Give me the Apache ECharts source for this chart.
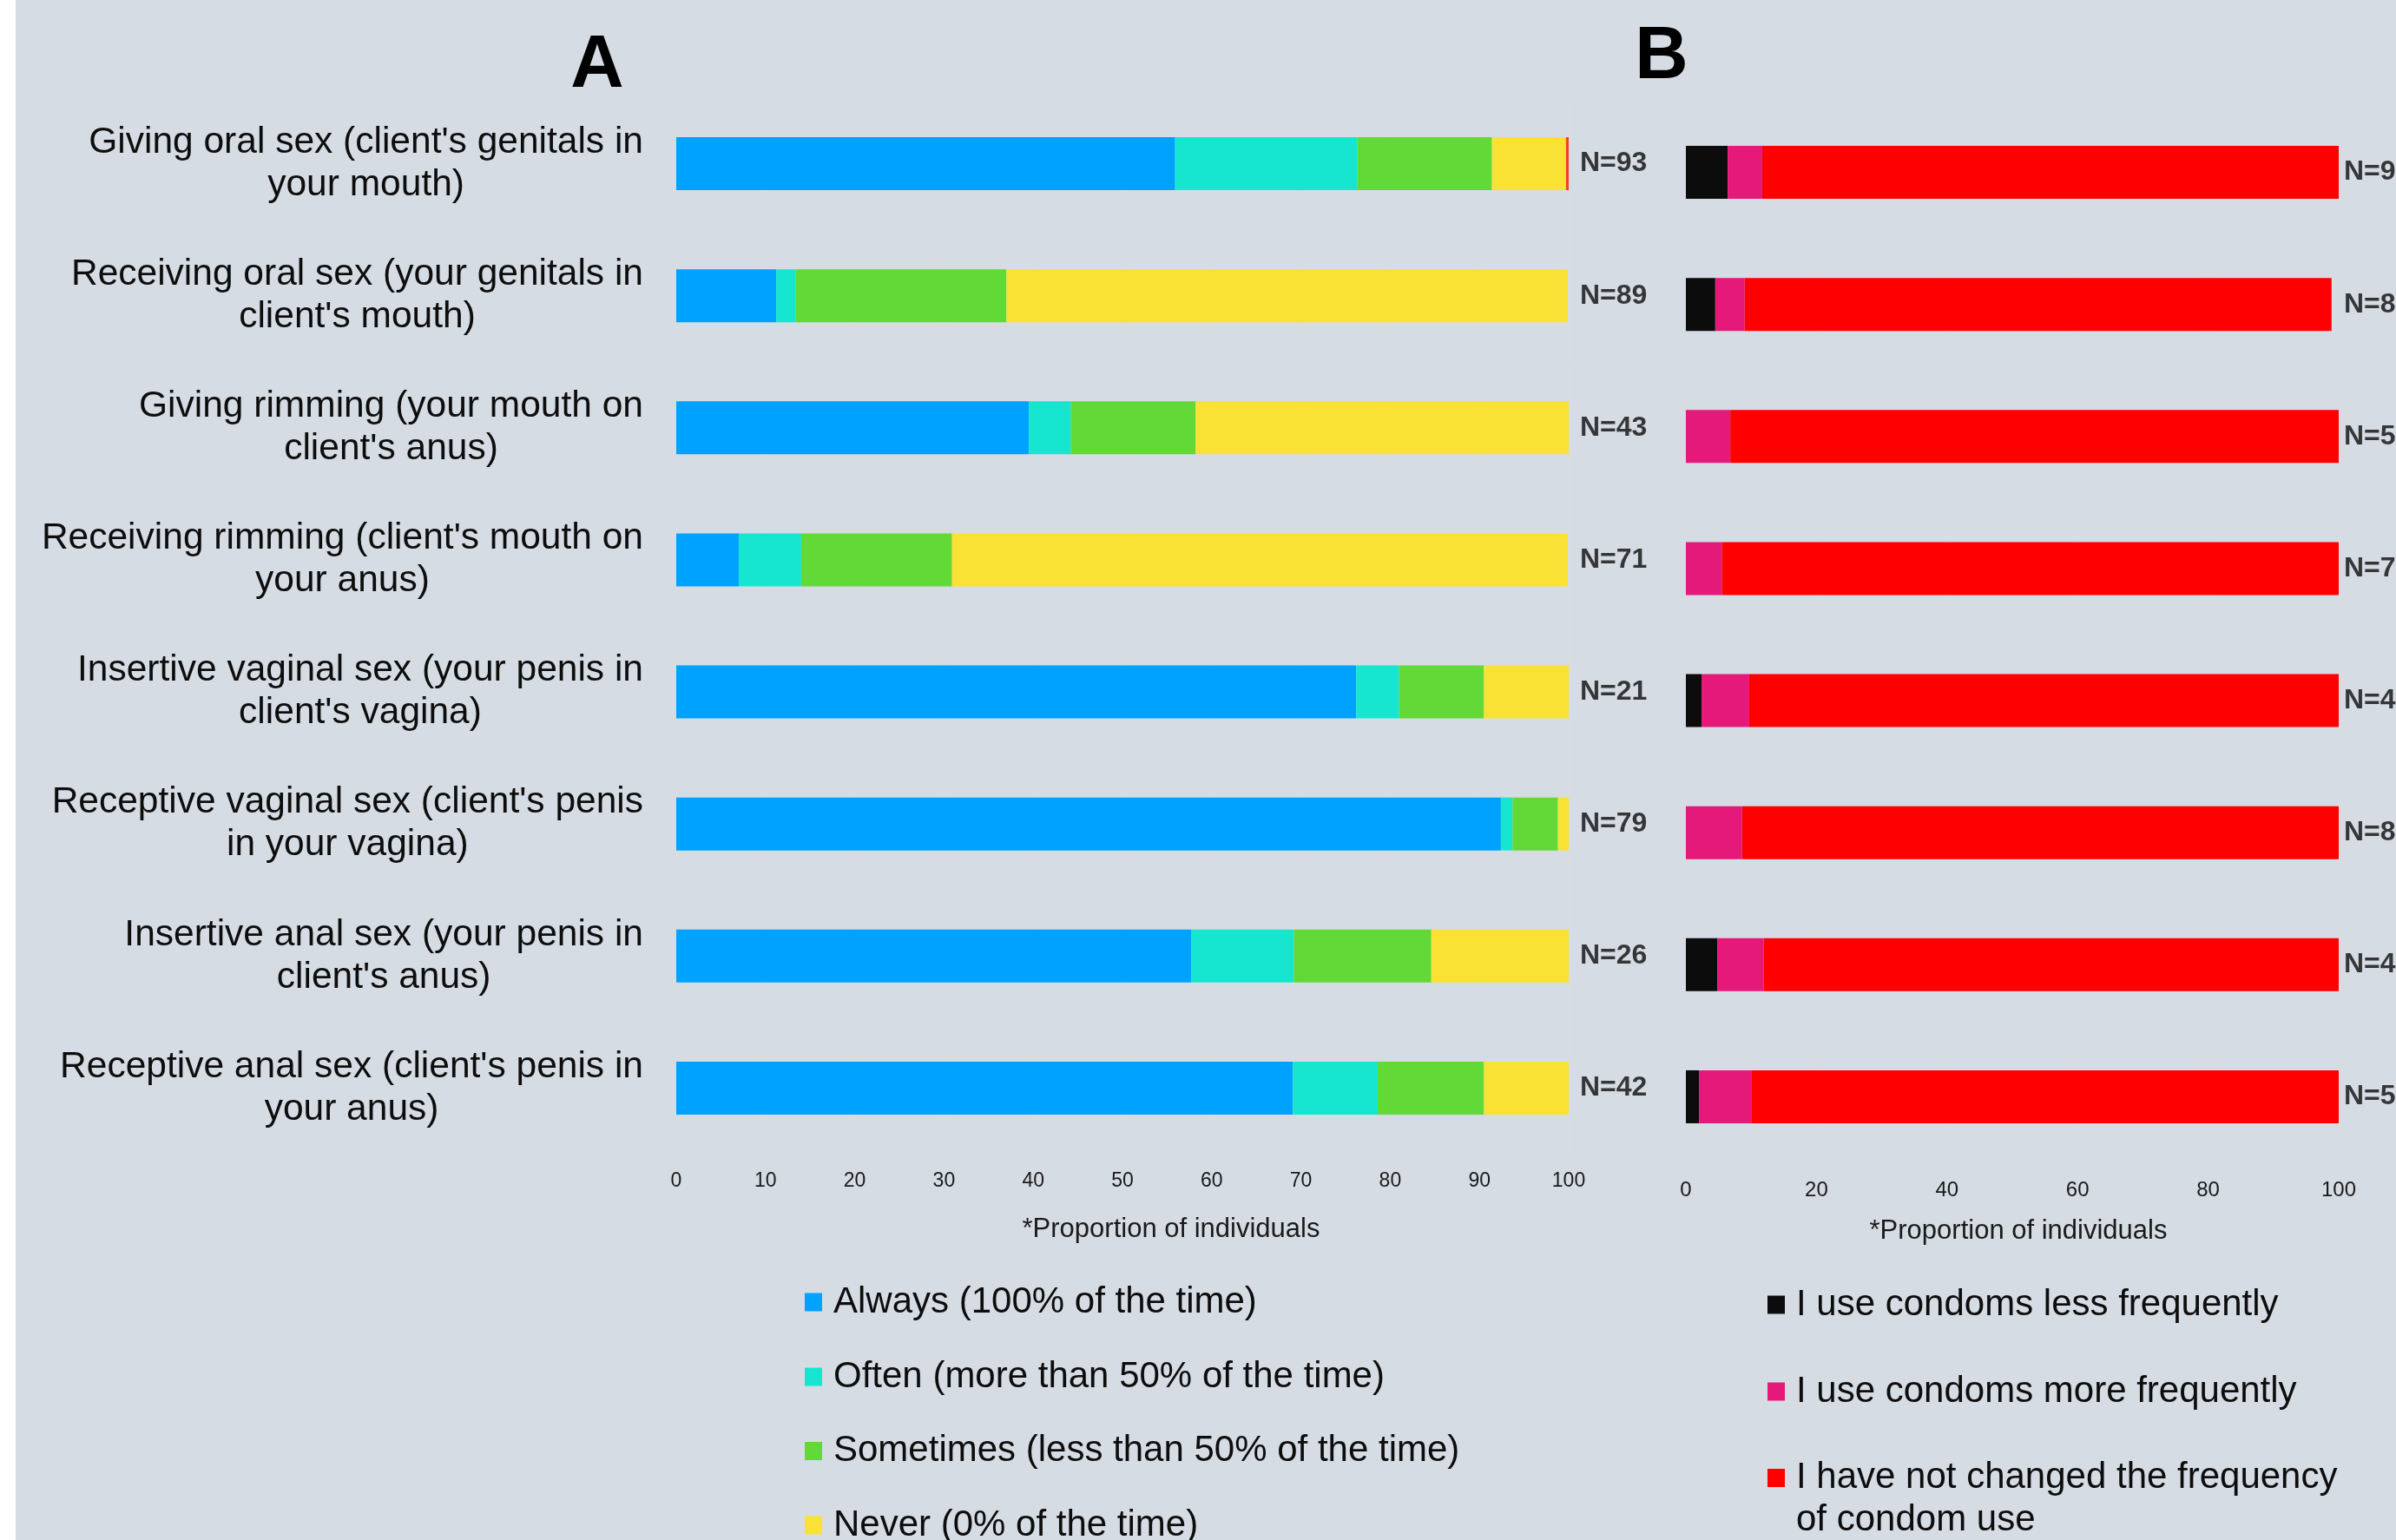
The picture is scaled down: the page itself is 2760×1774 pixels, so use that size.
<!DOCTYPE html>
<html>
<head>
<meta charset="utf-8">
<script src="https://cdn.jsdelivr.net/npm/echarts@6/dist/echarts.min.js"></script>
<style>
html,body{margin:0;padding:0;background:#ffffff;}
#c{width:2760px;height:1774px;}
</style>
</head>
<body>
<div id="c"></div>
<script>
// ---------- data ----------
const categories = [
  "Giving oral sex (client's genitals in\nyour mouth)",
  "Receiving oral sex (your genitals in\nclient's mouth)",
  "Giving rimming (your mouth on\nclient's anus)",
  "Receiving rimming (client's mouth on\nyour anus)",
  "Insertive vaginal sex (your penis in\nclient's vagina)",
  "Receptive vaginal sex (client's penis\nin your vagina)",
  "Insertive anal sex (your penis in\nclient's anus)",
  "Receptive anal sex (client's penis in\nyour anus)"
];
const seriesNamesA = [
  'Always (100% of the time)',
  'Often (more than 50% of the time)',
  'Sometimes (less than 50% of the time)',
  'Never (0% of the time)'
];
const seriesNamesB = [
  'I use condoms less frequently',
  'I use condoms more frequently',
  'I have not changed the frequency\nof condom use'
];
// Panel A (% of individuals)
const alwaysA    = [55.9, 11.2, 39.5,  7.0, 76.2, 92.4, 57.7, 69.1];
const oftenA     = [20.4,  2.2,  4.7,  7.0,  4.8,  1.3, 11.5,  9.5];
const sometimesA = [15.1, 23.6, 14.0, 16.9,  9.5,  5.1, 15.4, 11.9];
const neverA     = [ 8.3, 62.9, 41.9, 69.0,  9.5,  1.3, 15.4,  9.5];
const otherA     = [ 0.3,    0,    0,    0,    0,    0,    0,    0];
const nLabelsA   = ['N=93','N=89','N=43','N=71','N=21','N=79','N=26','N=42'];
// Panel B (% of individuals)
const lessB      = [ 6.4,  4.5,  0.0,  0.0,  2.4,  0.0,  4.8,  2.0];
const moreB      = [ 5.3,  4.5,  6.8,  5.5,  7.3,  8.6,  7.1,  8.0];
const sameB      = [88.3, 89.9, 93.2, 94.5, 90.3, 91.4, 88.1, 90.0];
const nLabelsB   = ['N=94','N=89','N=59','N=73','N=41','N=81','N=42','N=50'];
// tick labels / axis
const xTicksA = [0,10,20,30,40,50,60,70,80,90,100];
const xTicksB = [0,20,40,60,80,100];
const axisName = '*Proportion of individuals';
const nLabelAt = 100;

// ---------- styles ----------
const FONT = 'Liberation Sans';
const TXT = '#0d0d0d';
const colorsA = ['#00a2ff', '#16e6d0', '#62d937', '#f9e233', '#f0402a'];
const colorsB = ['#0c0c0c', '#e5197a', '#ff0000'];
const gridColor = '#dfdcda';

const chart = echarts.init(document.getElementById('c'));

function catFormatter(v){
  return v.split('\n').map(l => '{c|' + l + '}').join('\n');
}

const barW = 61;
const series = [];
const dataA = [alwaysA, oftenA, sometimesA, neverA];
dataA.forEach((d, i) => {
  series.push({
    type: 'bar', name: seriesNamesA[i], stack: 'a', xAxisIndex: 0, yAxisIndex: 0,
    barWidth: barW, data: d, itemStyle: {color: colorsA[i]}, emphasis: {disabled: true}
  });
});
series.push({
  type: 'bar', name: 'other', stack: 'a', xAxisIndex: 0, yAxisIndex: 0,
  barWidth: barW, data: otherA, itemStyle: {color: colorsA[4]}, emphasis: {disabled: true}
});
[lessB, moreB, sameB].forEach((d, i) => {
  series.push({
    type: 'bar', name: seriesNamesB[i], stack: 'b', xAxisIndex: 1, yAxisIndex: 1,
    barWidth: barW, data: d, itemStyle: {color: colorsB[i]}, emphasis: {disabled: true}
  });
});
series.push({
  type: 'scatter', xAxisIndex: 0, yAxisIndex: 0, symbolSize: 0, silent: true,
  data: nLabelsA.map((n, i) => [nLabelAt, i]),
  label: {show: true, position: 'right', distance: 13, formatter: p => nLabelsA[p.dataIndex],
    fontFamily: FONT, fontWeight: 'bold', fontSize: 32, color: TXT}
});
series.push({
  type: 'scatter', xAxisIndex: 1, yAxisIndex: 1, symbolSize: 0, silent: true,
  data: nLabelsB.map((n, i) => [nLabelAt, i]),
  label: {show: true, position: 'right', distance: 6, formatter: p => nLabelsB[p.dataIndex],
    fontFamily: FONT, fontWeight: 'bold', fontSize: 32, color: TXT}
});

const legTxt = {fontFamily: FONT, fontSize: 42, color: TXT, lineHeight: 49, padding: [0,0,0,8]};
const legCommon = {orient: 'vertical', padding: 0, itemWidth: 20, itemHeight: 21, icon: 'rect',
  selectedMode: false, textStyle: legTxt};
function leg(left, iconCenterY, name, extraLines){
  const lines = extraLines || 0;
  const top = iconCenterY - 10.5 + 10.5 - (49 * (1 + 2 * lines)) / 2 + 4 - 10.5 + 10.5;
  return Object.assign({}, legCommon, {
    left: left, top: iconCenterY - 24.5 + 4 - lines * 49,
    data: [name],
    formatter: lines ? (n => '\n' + n) : undefined
  });
}

const option = {
  backgroundColor: '#d6dce4',
  animation: false,
  grid: [
    {left: 779, width: 1028, top: 112.5, height: 1217},
    {left: 1942, width: 752, top: 122.5, height: 1217}
  ],
  xAxis: [
    {type: 'value', gridIndex: 0, min: xTicksA[0], max: xTicksA[xTicksA.length-1], interval: 10,
     axisLine: {show: false}, axisTick: {show: false},
     splitLine: {show: true, lineStyle: {color: gridColor, width: 1}},
     axisLabel: {margin: 20, fontFamily: FONT, fontSize: 23, color: '#1a1a1a'},
     name: axisName, nameLocation: 'middle', nameGap: 71,
     nameTextStyle: {fontFamily: FONT, fontSize: 31, color: '#1a1a1a', padding: [0,0,0,112]}},
    {type: 'value', gridIndex: 1, min: xTicksB[0], max: xTicksB[xTicksB.length-1], interval: 20,
     axisLine: {show: false}, axisTick: {show: false},
     splitLine: {show: true, lineStyle: {color: gridColor, width: 1}},
     axisLabel: {margin: 20, fontFamily: FONT, fontSize: 24, color: '#1a1a1a'},
     name: axisName, nameLocation: 'middle', nameGap: 63,
     nameTextStyle: {fontFamily: FONT, fontSize: 31, color: '#1a1a1a', padding: [0,0,0,14]}}
  ],
  yAxis: [
    {type: 'category', gridIndex: 0, data: categories, inverse: true,
     axisLine: {show: false}, axisTick: {show: false}, splitLine: {show: false},
     axisLabel: {margin: 38, formatter: catFormatter,
       rich: {c: {align: 'center', fontFamily: FONT, fontSize: 42.5, lineHeight: 49, color: TXT}}}},
    {type: 'category', gridIndex: 1, data: categories, inverse: true,
     axisLine: {show: false}, axisTick: {show: false}, splitLine: {show: false},
     axisLabel: {show: false}}
  ],
  legend: [
    leg(927, 1496, seriesNamesA[0]),
    leg(927, 1582, seriesNamesA[1]),
    leg(927, 1667.5, seriesNamesA[2]),
    leg(927, 1753, seriesNamesA[3]),
    leg(2036, 1499, seriesNamesB[0]),
    leg(2036, 1599, seriesNamesB[1]),
    leg(2036, 1698.5, seriesNamesB[2], 1)
  ],
  graphic: [
    {type: 'rect', left: 0, top: 0, shape: {width: 18, height: 1774}, style: {fill: '#ffffff'}, z: 100},
    {type: 'text', x: 688, y: 76.5, style: {text: 'A', fontFamily: FONT, fontWeight: 'bold', fontSize: 85,
      fill: '#000', align: 'center', verticalAlign: 'middle'}},
    {type: 'text', x: 1914, y: 67, style: {text: 'B', fontFamily: FONT, fontWeight: 'bold', fontSize: 85,
      fill: '#000', align: 'center', verticalAlign: 'middle'}}
  ],
  series: series
};
chart.setOption(option);
</script>
</body>
</html>
